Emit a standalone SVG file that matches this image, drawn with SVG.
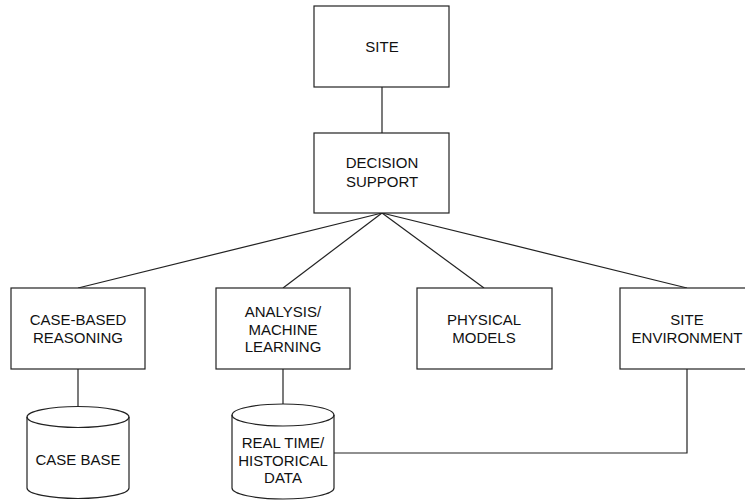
<svg xmlns="http://www.w3.org/2000/svg" width="745" height="502" viewBox="0 0 745 502">
<style>
.box{fill:#fff;stroke:#222;stroke-width:1.2}
.cyl{fill:#fff;stroke:#222;stroke-width:1.2}
.ln{fill:none;stroke:#222;stroke-width:1.2}
text{font-family:"Liberation Sans",Arial,sans-serif;font-size:15px;fill:#111;text-anchor:middle}
</style>
<rect width="745" height="502" fill="#fff"/>
<g id="connectors">
<line class="ln" x1="382" y1="87" x2="382" y2="133"/>
<line class="ln" x1="382" y1="213" x2="78" y2="288"/>
<line class="ln" x1="382" y1="213" x2="283" y2="288"/>
<line class="ln" x1="382" y1="213" x2="484" y2="288"/>
<line class="ln" x1="382" y1="213" x2="687" y2="288"/>
<line class="ln" x1="78" y1="369" x2="78" y2="407"/>
<line class="ln" x1="283" y1="369" x2="283" y2="404"/>
<polyline class="ln" points="334,453 687,453 687,369"/>
</g>
<g id="site">
<rect class="box" x="314" y="6" width="135" height="81"/>
<text x="382" y="52">SITE</text>
</g>
<g id="decision-support">
<rect class="box" x="314" y="133" width="135" height="80"/>
<text x="382" y="168">DECISION</text>
<text x="382" y="187">SUPPORT</text>
</g>
<g id="case-based-reasoning">
<rect class="box" x="11" y="288" width="134" height="81"/>
<text x="78" y="325">CASE-BASED</text>
<text x="78" y="343">REASONING</text>
</g>
<g id="analysis">
<rect class="box" x="216" y="288" width="134" height="81"/>
<text x="283" y="317">ANALYSIS/</text>
<text x="283" y="335">MACHINE</text>
<text x="283" y="352">LEARNING</text>
</g>
<g id="physical-models">
<rect class="box" x="417" y="288" width="135" height="81"/>
<text x="484" y="325">PHYSICAL</text>
<text x="484" y="343">MODELS</text>
</g>
<g id="site-environment">
<rect class="box" x="620" y="288" width="134" height="81"/>
<text x="687" y="325">SITE</text>
<text x="687" y="343">ENVIRONMENT</text>
</g>
<g id="case-base">
<path class="cyl" d="M27,417 A51,10.5 0 0 1 129,417 L129,488 A51,10.5 0 0 1 27,488 Z"/>
<path class="ln" d="M27,417 A51,10.5 0 0 0 129,417"/>
<text x="78" y="465">CASE BASE</text>
</g>
<g id="real-time-data">
<path class="cyl" d="M232,415 A51,11 0 0 1 334,415 L334,488 A51,11 0 0 1 232,488 Z"/>
<path class="ln" d="M232,415 A51,11 0 0 0 334,415"/>
<text x="283" y="448">REAL TIME/</text>
<text x="283" y="466">HISTORICAL</text>
<text x="283" y="483">DATA</text>
</g>
</svg>
